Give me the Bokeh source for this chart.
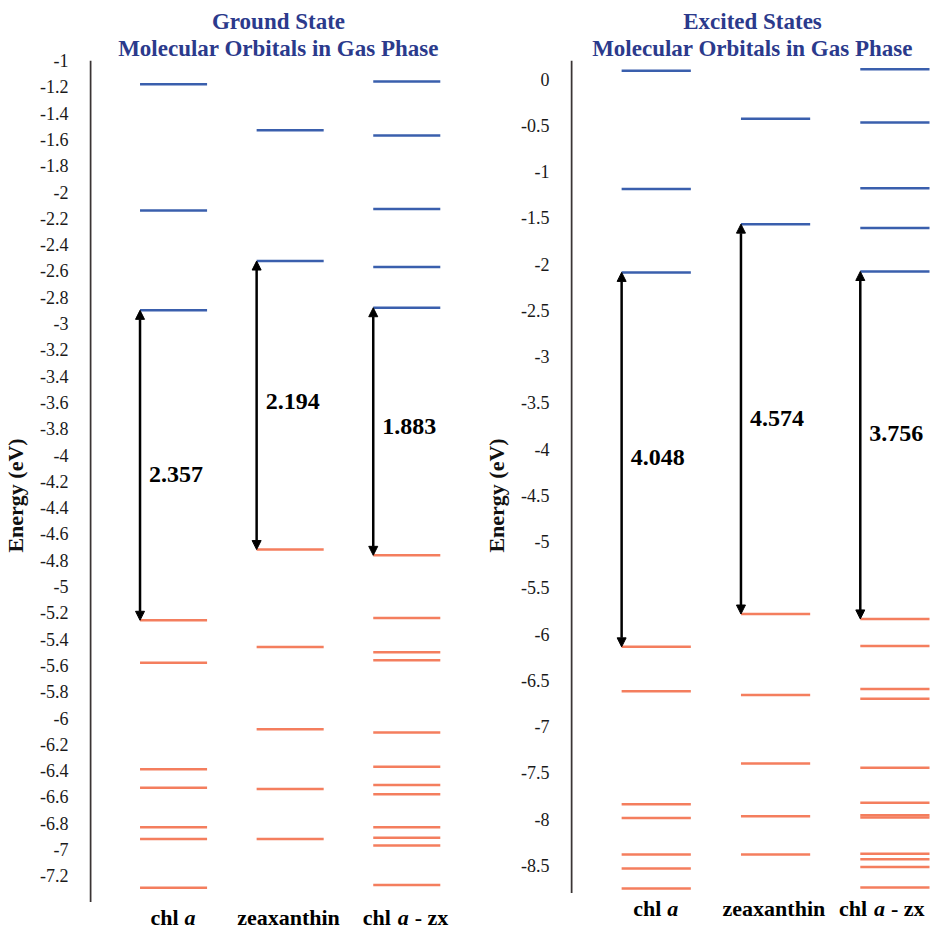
from bokeh.plotting import figure
from bokeh.layouts import row
from bokeh.models import (Range1d, FixedTicker, CustomJSTickFormatter, Title,
                          Arrow, NormalHead, ColumnDataSource)
from bokeh.core.properties import value
from bokeh.embed import file_html
from bokeh.resources import INLINE

# ---------------- data ----------------
molecules = ["chl a", "zeaxanthin", "chl a - zx"]

# Ground state orbital energies (eV): unoccupied (LUMO last) and occupied (HOMO first)
gs_chl_virtual = [-1.18, -2.14, -2.90]
gs_zx_virtual = [-1.53, -2.525]
gs_mix_virtual = [-1.16, -1.57, -2.13, -2.57, -2.88]
gs_chl_occupied = [-5.257, -5.58, -6.39, -6.53, -6.83, -6.92, -7.29]
gs_zx_occupied = [-4.719, -5.46, -6.085, -6.54, -6.92]
gs_mix_occupied = [-4.763, -5.24, -5.50, -5.56, -6.11, -6.37, -6.51, -6.58,
                   -6.83, -6.91, -6.97, -7.27]
gs_gaps = ["2.357", "2.194", "1.883"]

# Excited state orbital energies (eV)
es_chl_virtual = [0.09, -1.19, -2.091]
es_zx_virtual = [-0.43, -1.569]
es_mix_virtual = [0.105, -0.47, -1.18, -1.61, -2.081]
es_chl_occupied = [-6.139, -6.62, -7.84, -7.99, -8.385, -8.535, -8.75]
es_zx_occupied = [-5.784, -6.66, -7.40, -7.97, -8.385]
es_mix_occupied = [-5.837, -6.13, -6.595, -6.70, -7.445, -7.825, -7.96, -7.985,
                   -8.375, -8.435, -8.52, -8.74]
es_gaps = ["4.048", "4.574", "3.756"]

gs_ticks = [-1, -1.2, -1.4, -1.6, -1.8, -2, -2.2, -2.4, -2.6, -2.8, -3, -3.2, -3.4,
            -3.6, -3.8, -4, -4.2, -4.4, -4.6, -4.8, -5, -5.2, -5.4, -5.6, -5.8, -6,
            -6.2, -6.4, -6.6, -6.8, -7, -7.2]
es_ticks = [0, -0.5, -1, -1.5, -2, -2.5, -3, -3.5, -4, -4.5, -5, -5.5, -6, -6.5,
            -7, -7.5, -8, -8.5]

# ---------------- style ----------------
FONT = "Liberation Serif"
BLUE = "#3a5fad"
SALMON = "#f47e5e"
NAVY = "#2b3a8c"
H = 930
TOP = 60


def panel(t1, t2, virt, occ, gaps, gap_y, ytop, ybot, ppu, ticks, x_lo, x_line, x_hi,
          hw, border_left, width, last_shift):
    frame_h = H - TOP
    ymin = ytop - frame_h / ppu
    p = figure(width=width, height=H, x_range=Range1d(x_lo, x_hi),
               y_range=Range1d(ymin, ytop), output_backend="svg",
               toolbar_location=None, min_border_left=border_left,
               min_border_right=0, min_border_top=TOP, min_border_bottom=0,
               background_fill_color="white", border_fill_color="white")
    p.outline_line_color = None
    p.xgrid.visible = False
    p.ygrid.visible = False
    p.xaxis.visible = False

    ax = p.yaxis[0]
    ax.ticker = FixedTicker(ticks=ticks)
    ax.formatter = CustomJSTickFormatter(code="return String(Math.round(tick*10)/10)")
    ax.major_tick_line_color = None
    ax.minor_tick_line_color = None
    ax.axis_line_color = None
    ax.major_label_text_font = FONT
    ax.major_label_text_font_size = "18px"
    ax.major_label_text_color = "#1a1a1a"
    ax.major_label_standoff = 15
    ax.axis_label = "Energy (eV)"
    ax.axis_label_text_font = FONT
    ax.axis_label_text_font_size = "22px"
    ax.axis_label_text_font_style = "bold"
    ax.axis_label_text_color = "#111111"
    ax.axis_label_standoff = 9

    p.add_layout(Title(text=t2, align="center", text_font=FONT, text_font_size="23px",
                       text_font_style="bold", text_color=NAVY, standoff=0), "above")
    p.add_layout(Title(text=t1, align="center", text_font=FONT, text_font_size="23px",
                       text_font_style="bold", text_color=NAVY, standoff=0), "above")

    # vertical energy axis line (spans the axis range only)
    p.segment(x0=[x_line], x1=[x_line], y0=[ybot], y1=[ytop], line_color="#3a3434",
              line_width=2)

    x0, x1, ys, cols = [], [], [], []
    for i in range(3):
        for v in virt[i]:
            x0.append(i - hw); x1.append(i + hw); ys.append(v); cols.append(BLUE)
        for v in occ[i]:
            x0.append(i - hw); x1.append(i + hw); ys.append(v); cols.append(SALMON)
    src = ColumnDataSource(dict(x0=x0, x1=x1, y=ys, c=cols))
    p.segment(x0="x0", y0="y", x1="x1", y1="y", color="c", line_width=2.5, source=src)

    lx = []
    for i in range(3):
        lumo = virt[i][-1]
        homo = occ[i][0]
        p.add_layout(Arrow(start=NormalHead(size=9, fill_color="black", line_color="black"),
                           end=NormalHead(size=9, fill_color="black", line_color="black"),
                           x_start=i - hw, y_start=lumo, x_end=i - hw, y_end=homo,
                           line_width=2.5, line_color="black"))
        lx.append(i - hw)
    p.text(x=lx, y=gap_y, text=gaps, x_offset=9, text_align="left", text_baseline="middle",
           text_font=value(FONT), text_font_size="24px", text_font_style="bold",
           text_color="black")

    ylab = ybot - 15 / ppu
    common = dict(text_baseline="middle", text_font=value(FONT),
                  text_font_size="22px", text_color="black", text_align="left")
    s = last_shift
    # "chl a", "zeaxanthin", "chl a - zx" with italic a
    p.text(x=[0, 2], y=[ylab, ylab], text=["chl", "chl"], x_offset=[-23, -44 + s],
           text_font_style="bold", **common)
    p.text(x=[0, 2], y=[ylab, ylab], text=["a", "a"], x_offset=[11, -9 + s],
           text_font_style="bold italic", **common)
    p.text(x=[1, 2], y=[ylab, ylab], text=[molecules[1], "- zx"], x_offset=[-53, 8 + s],
           text_font_style="bold", **common)
    return p


gs_virt = [gs_chl_virtual, gs_zx_virtual, gs_mix_virtual]
gs_occ = [gs_chl_occupied, gs_zx_occupied, gs_mix_occupied]
es_virt = [es_chl_virtual, es_zx_virtual, es_mix_virtual]
es_occ = [es_chl_occupied, es_zx_occupied, es_mix_occupied]

left = panel("Ground State", "Molecular Orbitals in Gas Phase", gs_virt, gs_occ, gs_gaps,
             [-4.15, -3.59, -3.78], -1.0, -7.4, 131.5, gs_ticks,
             -0.7208, -0.7125, 2.5208, 0.2875, 78, 467, 0)
right = panel("Excited States", "Molecular Orbitals in Gas Phase", es_virt, es_occ, es_gaps,
              [-4.09, -3.675, -3.83], 0.2, -8.8, 92.5, es_ticks,
              -0.7185, -0.7101, 2.3319, 0.29, 103, 467, -12)

layout = row(left, right)
open("out.html", "w").write(file_html(layout, INLINE))
